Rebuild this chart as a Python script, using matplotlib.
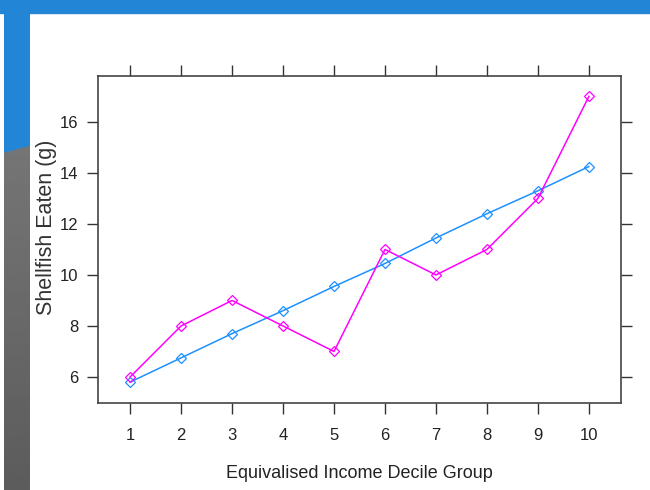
import numpy as np
import matplotlib.pyplot as plt
from matplotlib.patches import Rectangle, Polygon

# decile groups and shellfish eaten (g) for the two series
deciles = [1, 2, 3, 4, 5, 6, 7, 8, 9, 10]
fitted = [5.8, 6.75, 7.7, 8.6, 9.55, 10.45, 11.45, 12.4, 13.3, 14.25]
observed = [6, 8, 9, 8, 7, 11, 10, 11, 13, 17]
yticks = [6, 8, 10, 12, 14, 16]

plt.rcParams['font.family'] = ['Liberation Sans', 'DejaVu Sans']

fig = plt.figure(figsize=(6.5, 4.9), dpi=100)
W, H = 650, 490
blue = '#2385d6'

# slide background: blue top bar, grey gradient strip on the left with a blue top
fig.patches.append(Rectangle((0, 1 - 13 / H), 1, 13 / H, transform=fig.transFigure,
                             color=blue, zorder=0))
grad = np.linspace(0.46, 0.36, 256).reshape(-1, 1)
gax = fig.add_axes([4 / W, 0, 26 / W, 1])
gax.imshow(grad, cmap='gray', vmin=0, vmax=1, aspect='auto',
           extent=(0, 1, H, 145))
gax.add_patch(Polygon([(0, 0), (1, 0), (1, 145), (0, 152)], closed=True, color=blue))
gax.set_xlim(0, 1)
gax.set_ylim(H, 0)
gax.axis('off')

ax = fig.add_axes([98 / W, 1 - 403 / H, (621 - 98) / W, (403 - 76) / H])
ax.plot(deciles, fitted, color='#1e90ff', lw=1.1, marker='D', ms=5,
        mfc='none', mec='#1e90ff', mew=0.9)
ax.plot(deciles, observed, color='#ff00ff', lw=1.1, marker='D', ms=5,
        mfc='none', mec='#ff00ff', mew=0.9)

ax.set_xlim(0.37, 10.63)
ax.set_ylim(4.98, 17.8)
ax.set_xticks(deciles)
ax.set_yticks(yticks)
ax.tick_params(direction='out', length=8, width=1, color='#333333',
               top=True, right=True, labelsize=12, labelcolor='#222222')
ax.tick_params(axis='x', pad=10)
ax.tick_params(axis='y', pad=6)
for s in ax.spines.values():
    s.set_color('#444444')
    s.set_linewidth(1.2)

ax.set_xlabel('Equivalised Income Decile Group', fontsize=13,
              color='#222222', labelpad=16)
fig.text(47 / W, 1 - 227 / H, 'Shellfish Eaten (g)', rotation=90, fontsize=15.5,
         ha='center', va='center', color='#333333')

fig.savefig('out.png', dpi=100)
